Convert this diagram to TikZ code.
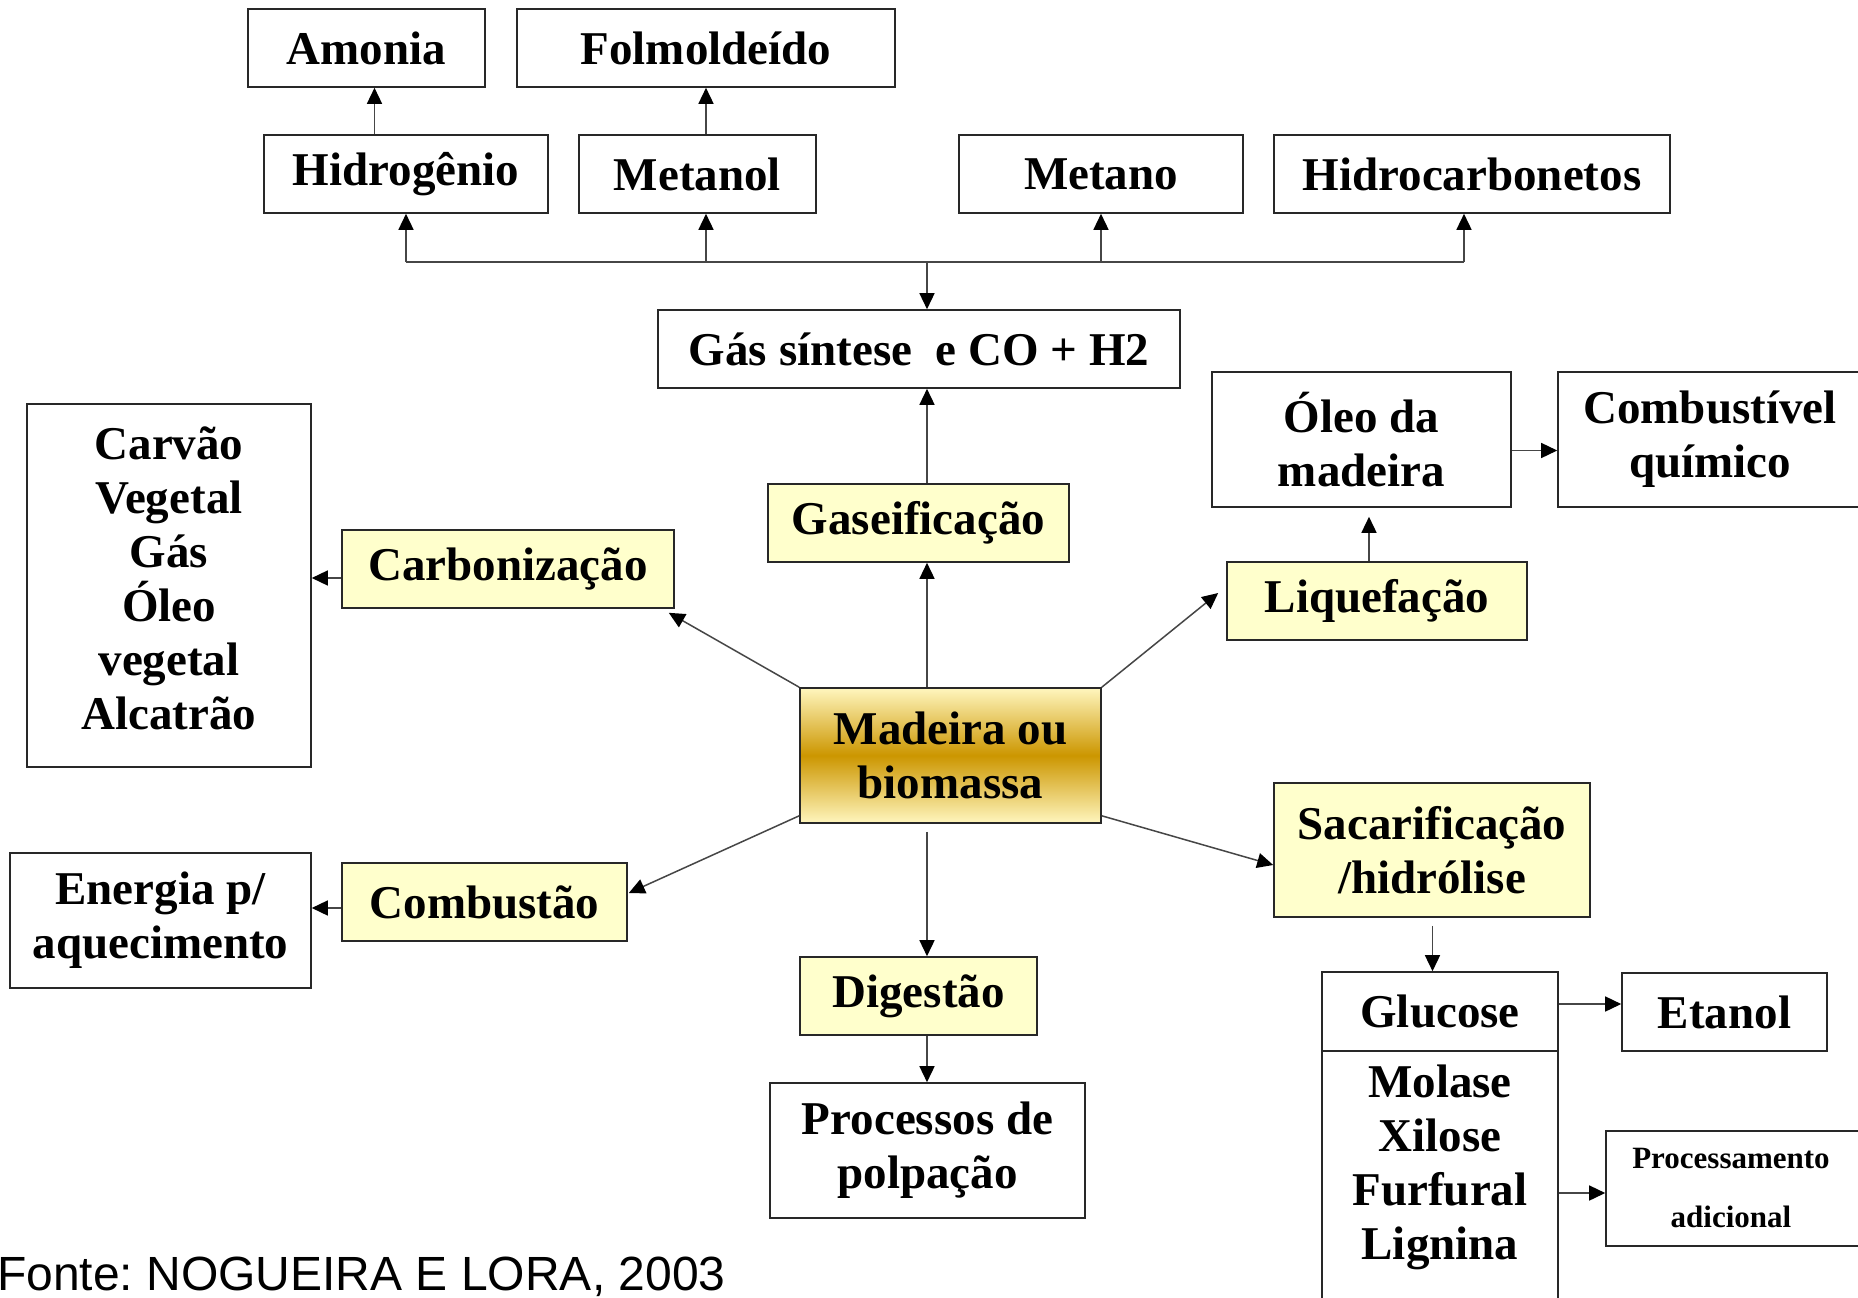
\documentclass[tikz,border=0pt]{standalone}
\usepackage{fontspec}
\setmainfont{Liberation Serif}
\newfontfamily\fontesans{Liberation Sans}
\usetikzlibrary{arrows.meta,calc}
\definecolor{ylw}{RGB}{255,255,204}
\definecolor{goldmid}{RGB}{204,150,0}
\definecolor{goldlt}{RGB}{255,246,190}
\definecolor{bordc}{RGB}{40,40,40}
\definecolor{linec}{RGB}{70,70,70}
\tikzset{
  box/.style={draw=bordc, line width=1.6pt, inner sep=0pt, align=center,
    font=\bfseries\fontsize{47}{54}\selectfont},
  ybox/.style={box, fill=ylw},
  smalltxt/.style={font=\bfseries\fontsize{31}{59}\selectfont, align=center, inner sep=0pt},
  bigtxt/.style={font=\bfseries\fontsize{47}{54}\selectfont, align=center, inner sep=0pt},
  ln/.style={draw=linec, line width=1.5pt},
  arr/.style={ln, -{Triangle[length=16pt,width=15pt,color=black]}}
}
\begin{document}
\frenchspacing
\begin{tikzpicture}[x=1pt,y=-1pt]
\useasboundingbox (0,0) rectangle (1858,1298);
\fill[white] (0,0) rectangle (1858,1298);

% top row
\node[box, minimum width=237pt, minimum height=78pt] (amonia) at (366.5,48) {Amonia};
\node[box, minimum width=378pt, minimum height=78pt] (folm) at (706,48) {Folmoldeído};
\node[box, minimum width=284pt, minimum height=78pt] (hidro) at (406,174) {Hidrogênio};
\node[box, minimum width=237pt, minimum height=78pt] (metanol) at (697.5,174) {Metanol};
\node[box, minimum width=284pt, minimum height=78pt] (metano) at (1101,174) {Metano};
\node[box, minimum width=396pt, minimum height=78pt] (hidrocarb) at (1472,174) {Hidrocarbonetos};
\node[box, minimum width=522pt, minimum height=78pt] (gas) at (919,349) {Gás síntese\ \ e CO + H2};

% left side
\node[box, minimum width=284pt, minimum height=363pt] (carvao) at (169,585.5) {};
\node[bigtxt] (carvaot) at (169,578) {Carvão\\Vegetal\\Gás\\Óleo\\vegetal\\Alcatrão};
\node[ybox, minimum width=332pt, minimum height=78pt] (carbon) at (508,569) {Carbonização};
\node[ybox, minimum width=301pt, minimum height=78pt] (gaseif) at (918.5,523) {Gaseificação};

% right upper
\node[box, minimum width=299pt, minimum height=135pt] (oleo) at (1361.5,439.5) {Óleo da\\madeira};
\node[box, minimum width=304pt, minimum height=135pt] (combust) at (1710,439.5) {Combustível\\químico};
\node[ybox, minimum width=300pt, minimum height=78pt] (liquef) at (1377,601) {Liquefação};

% centre
\node[box, minimum width=301pt, minimum height=135pt,
      top color=goldlt, bottom color=goldlt, middle color=goldmid] (madeira) at (950.5,755.5) {Madeira ou\\biomassa};

% lower
\node[ybox, minimum width=316pt, minimum height=134pt] (sacar) at (1432,850) {Sacarificação\\/hidrólise};
\node[box, minimum width=301pt, minimum height=135pt] (energia) at (160.5,920.5) {Energia p/\\aquecimento};
\node[ybox, minimum width=285pt, minimum height=78pt] (combustao) at (484.5,902) {Combustão};
\node[ybox, minimum width=237pt, minimum height=78pt] (digestao) at (918.5,996) {Digestão};
\node[box, minimum width=315pt, minimum height=135pt] (processos) at (927.5,1150.5) {Processos de\\polpação};
\node[box, minimum width=236pt, minimum height=79pt] (glucose) at (1440,1011.5) {Glucose};
\node[box, minimum width=236pt, minimum height=269pt] (molase) at (1440,1185.5) {};
\node[bigtxt] (molaset) at (1440,1167.5) {Molase\\Xilose\\Furfural\\Lignina};
\node[box, minimum width=205pt, minimum height=78pt] (etanol) at (1724.5,1012) {Etanol};
\node[box, minimum width=256pt, minimum height=115pt] (procad) at (1734,1188.5) {};
\node[smalltxt] (procadt) at (1731,1187.5) {Processamento\\adicional};

% source
\node[anchor=base west, inner sep=0pt, font=\fontesans\fontsize{48}{54}\selectfont] (fonte) at (-3,1290)
  {Fonte: NOGUEIRA E LORA, 2003};

% connectors top
\draw[arr] ([xshift=8pt]amonia.south |- hidro.north) -- ([xshift=8pt]amonia.south);
\draw[arr] (folm.south |- metanol.north) -- (folm.south);
\coordinate (busL) at (406,262);
\coordinate (busR) at (1464,262);
\draw[ln] (busL) -- (busR);
\draw[arr] (busL) -- (busL |- hidro.south);
\draw[arr] (folm.south |- busL) -- (folm.south |- metanol.south);
\draw[arr] (metano.south |- busL) -- (metano.south);
\draw[arr] (busR) -- (busR |- hidrocarb.south);
\coordinate (spine) at (927,0);
\draw[arr] (spine |- busL) -- (spine |- gas.north);
\draw[arr] (spine |- madeira.north) -- (spine |- gaseif.south);
\draw[arr] (spine |- gaseif.north) -- (spine |- gas.south);
\coordinate (dg) at ($(spine |- madeira.south)+(0,8)$);
\draw[arr] (dg) -- (spine |- digestao.north);
\draw[arr] (spine |- digestao.south) -- (spine |- processos.north);

% diagonals
\draw[arr] (madeira.north west) -- ($(carbon.south east)+(-6,4)$);
\draw[arr] (madeira.north east) -- ($(liquef.west)+(-8,-8)$);
\draw[arr] ($(madeira.south west)+(0,-8)$) -- ($(combustao.east)+(1,-9)$);
\draw[arr] ($(madeira.south east)+(0,-8)$) -- ($(sacar.west)+(0,15)$);

% side connectors
\draw[arr] ($(liquef.north)+(-8,0)$) -- ($(oleo.south)+(7.5,9)$);
\draw[arr] ($(oleo.east)+(0,11)$) -- ($(combust.west)+(0,11)$);
\draw[arr] ($(carbon.west)+(0,9)$) -- ($(carvao.east)+(0,-7.5)$);
\draw[arr] ($(combustao.west)+(0,6)$) -- ($(energia.east)+(0,-12.5)$);
\coordinate (s1) at ($(sacar.south)+(0.5,8)$);
\draw[arr] (s1) -- (s1 |- glucose.north);
\draw[arr] ($(glucose.east)+(0,-7.5)$) -- ($(etanol.west)+(0,-8)$);
\coordinate (m1) at ($(procad.west)+(0,4.5)$);
\draw[arr] (m1 -| molase.east) -- (m1);
\end{tikzpicture}
\end{document}
